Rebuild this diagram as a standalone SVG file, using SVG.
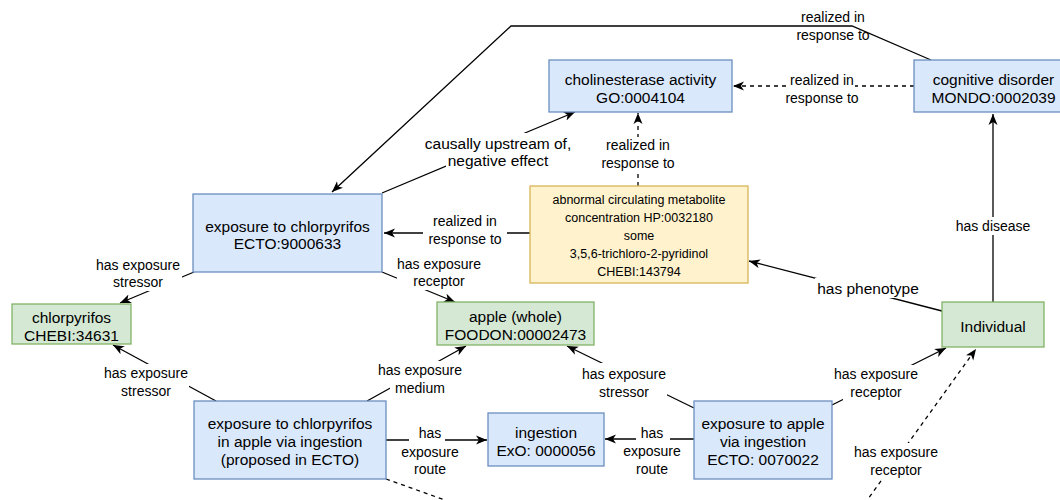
<svg xmlns="http://www.w3.org/2000/svg" width="1060" height="500" viewBox="0 0 1060 500">
<style>
.blue{fill:#dae8fc;stroke:#6c8ebf;stroke-width:1.3}
.green{fill:#d5e8d4;stroke:#82b366;stroke-width:1.3}
.yellow{fill:#fff2cc;stroke:#d6b656;stroke-width:1.3}
.nt{font-family:"Liberation Sans",Arial,sans-serif;font-size:15.5px;fill:#000;text-anchor:middle}
.st{font-family:"Liberation Sans",Arial,sans-serif;font-size:12.5px;fill:#000;text-anchor:middle}
.lt{font-family:"Liberation Sans",Arial,sans-serif;font-size:14px;fill:#000;text-anchor:middle}
.lb{font-family:"Liberation Sans",Arial,sans-serif;font-size:15.5px;fill:#000;text-anchor:middle}
.e{fill:none;stroke:#000;stroke-width:1.3}
.d{stroke-dasharray:4 4}
.bg{fill:#fff;stroke:none}
</style>
<defs>
<marker id="arr" markerUnits="userSpaceOnUse" markerWidth="12" markerHeight="10" refX="11" refY="5" orient="auto">
<path d="M0,0.5 L11,5 L0,9.5 L3,5 Z" fill="#000"/>
</marker>
</defs>
<rect width="1060" height="500" fill="#fff"/>

<g id="connectors">
<path class="e" d="M931,60 L852,26 L511,26 L332,192" marker-end="url(#arr)"/>
<path class="e d" d="M914,86 L733,86" marker-end="url(#arr)"/>
<path class="e d" d="M638,186 L638,113" marker-end="url(#arr)"/>
<path class="e" d="M382,193 L575,112" marker-end="url(#arr)"/>
<path class="e" d="M530,233 L384,233" marker-end="url(#arr)"/>
<path class="e" d="M993,302 L993,114" marker-end="url(#arr)"/>
<path class="e" d="M942,311 L749,261" marker-end="url(#arr)"/>
<path class="e" d="M194,272 L120,303" marker-end="url(#arr)"/>
<path class="e" d="M382,272 L455,302" marker-end="url(#arr)"/>
<path class="e" d="M216,401 L113,345" marker-end="url(#arr)"/>
<path class="e" d="M367,401 L466,346" marker-end="url(#arr)"/>
<path class="e" d="M386,440 L487,440" marker-end="url(#arr)"/>
<path class="e" d="M694,439 L605,439" marker-end="url(#arr)"/>
<path class="e" d="M694,408 L567,346" marker-end="url(#arr)"/>
<path class="e" d="M832,405 L946,348" marker-end="url(#arr)"/>
<path class="e d" d="M860,510 L976,349" marker-end="url(#arr)"/>
<path class="e d" d="M386,479 L470,509"/>

<rect class="bg" x="789" y="71" width="66" height="18"/>
<rect class="bg" x="600" y="137" width="76" height="35"/>
<rect class="bg" x="423" y="133" width="150" height="19"/>
<rect class="bg" x="446" y="151" width="106" height="19"/>
<rect class="bg" x="423" y="228" width="84" height="20"/>
<rect class="bg" x="953" y="217" width="80" height="18"/>
<rect class="bg" x="815" y="278" width="106" height="20"/>
<rect class="bg" x="94" y="256" width="88" height="35"/>
<rect class="bg" x="397" y="255" width="85" height="35"/>
<rect class="bg" x="104" y="364" width="85" height="36"/>
<rect class="bg" x="377" y="361" width="86" height="18"/>
<rect class="bg" x="390" y="379" width="60" height="18"/>
<rect class="bg" x="409" y="424" width="36" height="19"/>
<rect class="bg" x="636" y="424" width="34" height="19"/>
<rect class="bg" x="582" y="363" width="84" height="20"/>
<rect class="bg" x="599" y="383" width="68" height="18"/>
<rect class="bg" x="834" y="365" width="84" height="18"/>
<rect class="bg" x="843" y="383" width="66" height="18"/>
<rect class="bg" x="854" y="443" width="84" height="35"/>

<text class="lt" x="833" y="22">realized in</text>
<text class="lt" x="833" y="40">response to</text>
<text class="lt" x="822" y="85">realized in</text>
<text class="lt" x="822" y="103">response to</text>
<text class="lt" x="638" y="150">realized in</text>
<text class="lt" x="638" y="168">response to</text>
<text class="lb" x="498" y="148.5">causally upstream of,</text>
<text class="lb" x="498" y="165.5">negative effect</text>
<text class="lt" x="465" y="226">realized in</text>
<text class="lt" x="465" y="244">response to</text>
<text class="lt" x="993" y="231">has disease</text>
<text class="lb" x="868" y="293.5">has phenotype</text>
<text class="lt" x="138" y="270">has exposure</text>
<text class="lt" x="138" y="287">stressor</text>
<text class="lt" x="439" y="269">has exposure</text>
<text class="lt" x="439" y="286">receptor</text>
<text class="lt" x="146" y="378">has exposure</text>
<text class="lt" x="146" y="396">stressor</text>
<text class="lt" x="420" y="375">has exposure</text>
<text class="lt" x="420" y="393">medium</text>
<text class="lt" x="430" y="438">has</text>
<text class="lt" x="430" y="457">exposure</text>
<text class="lt" x="430" y="474">route</text>
<text class="lt" x="652" y="438">has</text>
<text class="lt" x="652" y="456">exposure</text>
<text class="lt" x="652" y="474">route</text>
<text class="lt" x="624" y="379">has exposure</text>
<text class="lt" x="624" y="397">stressor</text>
<text class="lt" x="876" y="379">has exposure</text>
<text class="lt" x="876" y="397">receptor</text>
<text class="lt" x="896" y="457">has exposure</text>
<text class="lt" x="896" y="475">receptor</text>
</g>

<g id="cholinesterase">
<rect class="blue" x="549" y="60" width="183" height="52"/>
<text class="nt" x="640.5" y="84.5">cholinesterase activity</text>
<text class="nt" x="640.5" y="102.5">GO:0004104</text>
</g>
<g id="cognitive">
<rect class="blue" x="914" y="60" width="159" height="52"/>
<text class="nt" x="993.5" y="84.5">cognitive disorder</text>
<text class="nt" x="993.5" y="102.5">MONDO:0002039</text>
</g>
<g id="abnormal">
<rect class="yellow" x="530" y="186" width="218" height="97"/>
<text class="st" x="639" y="203.5">abnormal circulating metabolite</text>
<text class="st" x="639" y="221.5">concentration HP:0032180</text>
<text class="st" x="639" y="240">some</text>
<text class="st" x="639" y="257.5">3,5,6-trichloro-2-pyridinol</text>
<text class="st" x="639" y="275.5">CHEBI:143794</text>
</g>
<g id="exposure-chlorpyrifos">
<rect class="blue" x="193" y="194" width="189" height="78"/>
<text class="nt" x="287.5" y="231.5">exposure to chlorpyrifos</text>
<text class="nt" x="287.5" y="248.5">ECTO:9000633</text>
</g>
<g id="chlorpyrifos">
<rect class="green" x="12" y="304" width="119" height="40"/>
<text class="nt" x="71.5" y="322.5">chlorpyrifos</text>
<text class="nt" x="71.5" y="340.5">CHEBI:34631</text>
</g>
<g id="apple">
<rect class="green" x="437" y="302" width="157" height="43"/>
<text class="nt" x="515.5" y="322">apple (whole)</text>
<text class="nt" x="515.5" y="340">FOODON:00002473</text>
</g>
<g id="individual">
<rect class="green" x="942" y="302" width="102" height="45"/>
<text class="nt" x="993" y="331.5">Individual</text>
</g>
<g id="exposure-chlorpyrifos-apple">
<rect class="blue" x="194" y="401" width="192" height="78"/>
<text class="nt" x="290" y="428.5">exposure to chlorpyrifos</text>
<text class="nt" x="290" y="446.5">in apple via ingestion</text>
<text class="nt" x="290" y="464.5">(proposed in ECTO)</text>
</g>
<g id="ingestion">
<rect class="blue" x="488" y="413" width="116" height="53"/>
<text class="nt" x="546" y="437.5">ingestion</text>
<text class="nt" x="546" y="455.5">ExO: 0000056</text>
</g>
<g id="exposure-apple">
<rect class="blue" x="694" y="401" width="138" height="78"/>
<text class="nt" x="763" y="428.5">exposure to apple</text>
<text class="nt" x="763" y="446.5">via ingestion</text>
<text class="nt" x="763" y="464.5">ECTO: 0070022</text>
</g>
</svg>
